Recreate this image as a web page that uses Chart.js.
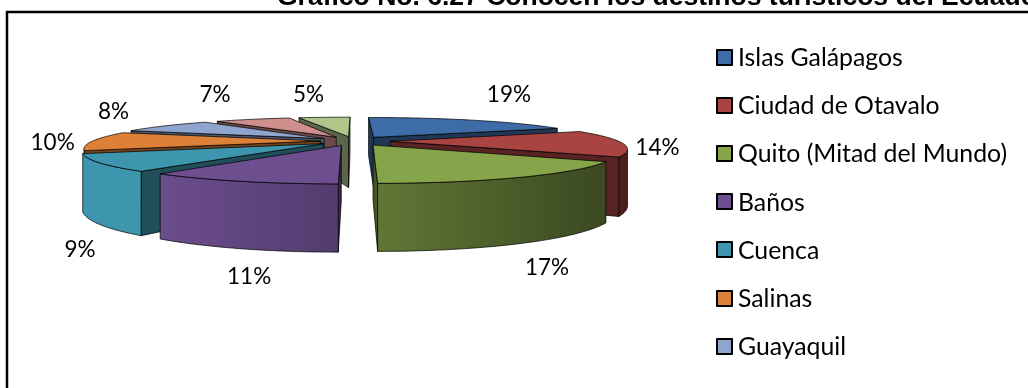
<!DOCTYPE html>
<html>
<head>
<meta charset="utf-8">
<style>
  html, body { margin: 0; padding: 0; background: #fff; overflow: hidden; }
  canvas { display: block; }
  #legend { position: absolute; left: 716px; top: 33px; margin: 0; padding: 0; list-style: none; font: 24.8px Lato; color: #000; white-space: nowrap; }
  #legend li { height: 48.2px; line-height: 48.2px; display: flex; align-items: center; }
  #legend span { width: 13px; height: 13px; border: 2px solid #000; border-radius: 1px; margin-right: 5px; }
</style>
<script src="https://cdn.jsdelivr.net/npm/chart.js@4"></script>
</head>
<body>
<canvas id="pieChart" width="1028" height="388"></canvas>
<ul id="legend"></ul>
<script>
const titleText = 'Gráfico No. 6.27 Conocen los destinos turísticos del Ecuador';
const categories = ['Islas Galápagos', 'Ciudad de Otavalo', 'Quito (Mitad del Mundo)', 'Baños', 'Cuenca', 'Salinas', 'Guayaquil', '', ''];
const shares = [19, 14, 17, 11, 9, 10, 8, 7, 5];
const sliceColors = ['#3e6ca6', '#a94442', '#86a44a', '#6d4e8f', '#3d96ad', '#dc8137', '#8fa5ce', '#ce8f8d', '#afc58a'];
const sliceOffsets = [26, 26, 26, 26, 26, 24, 26, 26, 26];

// Pixel nudges for the percent labels, measured from each slice's rim
const labelNudges = [[42, -25], [35, 5], [25, 24], [9, 28], [-20, 25], [-40, 2], [-52, -14], [-38, -25], [-16, -23]];

// Projection of the flat pie onto the page
const PIE_CX = 354, PIE_CY = 141;
const PIE_RX = 228, PIE_RY = 29;
const PIE_DEPTH = 53;
const PERSPECTIVE = 0.25;

function project(u, v, h) {
    const s = 1 + PERSPECTIVE * v;
    return { x: PIE_CX + PIE_RX * u * s, y: PIE_CY + PIE_RY * v * s + h * PIE_DEPTH * s };
}

function shade(hex, f) {
    const n = parseInt(hex.slice(1), 16);
    const r = Math.round((n >> 16) * f), g = Math.round(((n >> 8) & 255) * f), b = Math.round((n & 255) * f);
    return 'rgb(' + r + ',' + g + ',' + b + ')';
}

function fillEdged(ctx, pts, fill) {
    ctx.beginPath();
    pts.forEach((p, i) => i ? ctx.lineTo(p.x, p.y) : ctx.moveTo(p.x, p.y));
    ctx.closePath();
    ctx.fillStyle = fill;
    ctx.fill();
    ctx.strokeStyle = 'rgba(0,0,0,0.7)';
    ctx.lineWidth = 1;
    ctx.stroke();
}

function signedArea(pts) {
    let sum = 0;
    pts.forEach((p, i) => {
        const q = pts[(i + 1) % pts.length];
        sum += p.x * q.y - q.x * p.y;
    });
    return sum;
}

// One exploded wedge: cut faces that look towards the viewer, front wall, then top
function drawWedge(ctx, arc, color) {
    const explode = arc.options.offset / arc.outerRadius;
    const mid = (arc.startAngle + arc.endAngle) / 2;
    const ox = explode * Math.cos(mid), oy = explode * Math.sin(mid);
    const steps = Math.max(4, Math.ceil((arc.endAngle - arc.startAngle) / 0.03));
    const rim = [];
    for (let i = 0; i <= steps; i++) {
        const t = arc.startAngle + (arc.endAngle - arc.startAngle) * i / steps;
        rim.push({ u: ox + Math.cos(t), v: oy + Math.sin(t) });
    }
    const rimTop = rim.map(r => project(r.u, r.v, 0));
    const rimBottom = rim.map(r => project(r.u, r.v, 1));

    const apexTop = project(ox, oy, 0), apexBottom = project(ox, oy, 1);
    [[0, -1], [steps, 1]].forEach(([i, side]) => {
        const face = [apexTop, rimTop[i], rimBottom[i], apexBottom];
        if (signedArea(face) * side > 0) fillEdged(ctx, face, shade(color, 0.52));
    });

    // the rim faces the viewer only while it runs right to left on the page
    const seen = rim.map((r, i) =>
        (i < steps && rimTop[i + 1].x < rimTop[i].x) || (i > 0 && rimTop[i].x < rimTop[i - 1].x));
    const wallTop = rimTop.filter((p, i) => seen[i]);
    const wallBottom = rimBottom.filter((p, i) => seen[i]);
    if (wallTop.length > 1) {
        const light = ctx.createLinearGradient(150, 0, 600, 0);
        light.addColorStop(0, shade(color, 1));
        light.addColorStop(1, shade(color, 0.45));
        fillEdged(ctx, wallTop.concat(wallBottom.reverse()), light);
    }

    fillEdged(ctx, [apexTop].concat(rimTop), color);
}

const pie3d = {
    id: 'pie3d',
    beforeDraw(chart) {
        const ctx = chart.ctx;
        ctx.save();
        // outer frame of the figure
        ctx.strokeStyle = '#000';
        ctx.lineWidth = 2.5;
        ctx.beginPath();
        ctx.moveTo(7, 388);
        ctx.lineTo(7, 12);
        ctx.lineTo(1028, 12);
        ctx.stroke();
        ctx.fillStyle = '#000';
        ctx.font = 'bold 26.5px "Liberation Sans"';
        ctx.textAlign = 'left';
        ctx.textBaseline = 'alphabetic';
        ctx.fillText(titleText, 277, 5);
        ctx.restore();
    },
    // the wedges are painted below instead of the flat arcs
    beforeDatasetDraw() {
        return false;
    },
    afterDatasetsDraw(chart) {
        const ctx = chart.ctx;
        const arcs = chart.getDatasetMeta(0).data;
        const depthOf = arc => Math.sin((arc.startAngle + arc.endAngle) / 2);
        ctx.save();
        arcs.map((arc, i) => ({ arc, i }))
            .sort((a, b) => depthOf(a.arc) - depthOf(b.arc))
            .forEach(({ arc, i }) => drawWedge(ctx, arc, sliceColors[i]));

        ctx.fillStyle = '#000';
        ctx.font = '22.5px Lato';
        ctx.textAlign = 'center';
        ctx.textBaseline = 'middle';
        arcs.forEach((arc, i) => {
            const mid = (arc.startAngle + arc.endAngle) / 2;
            const k = 1 + arc.options.offset / arc.outerRadius;
            const sinMid = Math.sin(mid);
            const p = project(k * Math.cos(mid), k * sinMid, sinMid > 0.2 ? 1 : 0);
            ctx.fillText(shares[i] + '%', p.x + labelNudges[i][0], p.y + labelNudges[i][1]);
        });
        ctx.restore();
    }
};

const chart = new Chart(document.getElementById('pieChart').getContext('2d'), {
    type: 'pie',
    data: {
        labels: categories,
        datasets: [{
            data: shares,
            backgroundColor: sliceColors,
            borderColor: '#000',
            borderWidth: 2,
            offset: sliceOffsets
        }]
    },
    options: {
        responsive: false,
        animation: false,
        events: [],
        layout: { padding: { top: 32 } },
        plugins: {
            title: { display: false },
            tooltip: { enabled: false },
            legend: { display: false }
        }
    },
    plugins: [pie3d]
});

// Legend list built from the chart's own legend items
const legendList = document.getElementById('legend');
chart.options.plugins.legend.labels.generateLabels(chart)
    .filter(item => item.text !== '')
    .forEach(item => {
        const row = document.createElement('li');
        const box = document.createElement('span');
        box.style.background = item.fillStyle;
        row.appendChild(box);
        row.appendChild(document.createTextNode(item.text));
        legendList.appendChild(row);
    });
</script>
</body>
</html>
